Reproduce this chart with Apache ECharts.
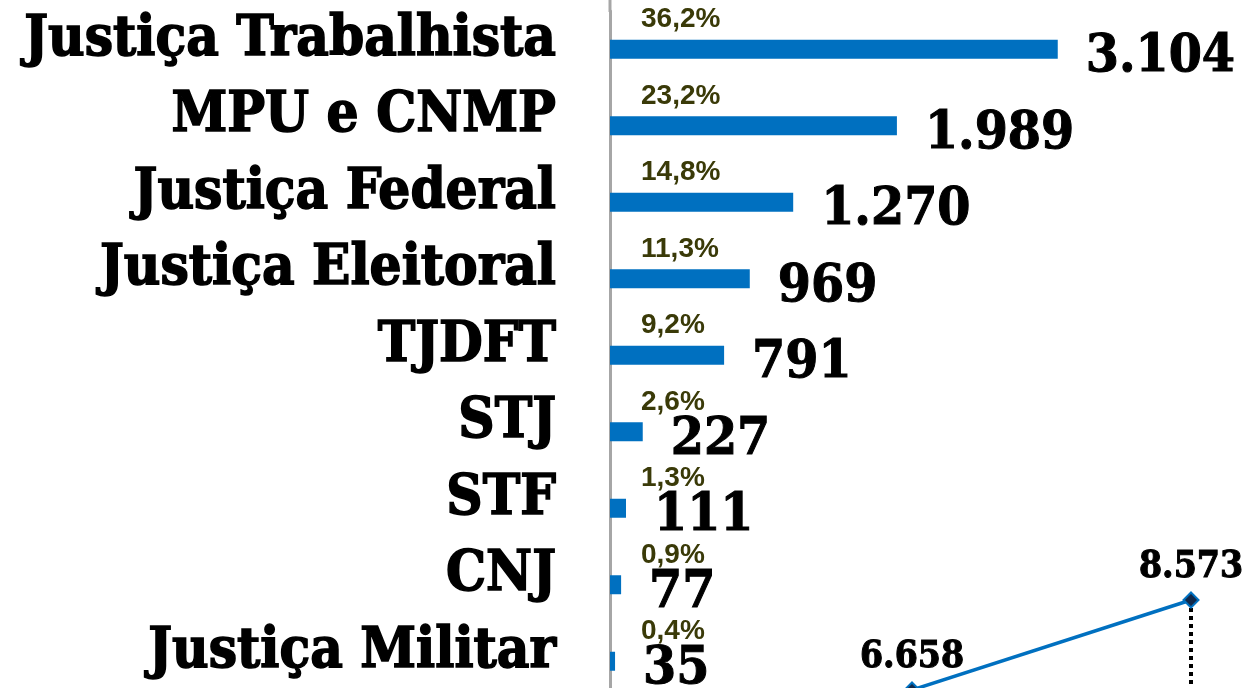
<!DOCTYPE html>
<html>
<head>
<meta charset="utf-8">
<script src="https://cdn.jsdelivr.net/npm/echarts@6/dist/echarts.min.js"></script>
<style>
  html, body { margin: 0; padding: 0; background: #fff; }
  #chart { width: 1246px; height: 688px; }
</style>
</head>
<body>
<div id="chart"></div>
<script>
// orgaos, de cima para baixo
var categories = ['Justiça Trabalhista', 'MPU e CNMP', 'Justiça Federal', 'Justiça Eleitoral', 'TJDFT', 'STJ', 'STF', 'CNJ', 'Justiça Militar'];
var values = [3104, 1989, 1270, 969, 791, 227, 111, 77, 35];
var shares = [36.2, 23.2, 14.8, 11.3, 9.2, 2.6, 1.3, 0.9, 0.4];

// pedaco do grafico de linha no canto
var lineCats = ['anterior', 'atual'];
var lineValues = [6658, 8573];

var slab = '"DejaVu Serif Condensed", "DejaVu Serif", serif';

function ptNum(v) {
  return String(v).replace(/\B(?=(\d{3})+(?!\d))/g, '.');
}

var chart = echarts.init(document.getElementById('chart'));

var option = {
  animation: false,
  grid: [
    { left: 610, top: 11, width: 577, height: 688.5, outerBoundsMode: 'none' },
    { left: 912, top: 600, width: 279, height: 90, outerBoundsMode: 'none' }
  ],
  xAxis: [
    {
      gridIndex: 0,
      type: 'value',
      min: 0,
      max: 4000,
      show: false
    },
    {
      gridIndex: 1,
      type: 'category',
      data: lineCats,
      boundaryGap: false,
      show: false
    }
  ],
  yAxis: [
    {
      gridIndex: 0,
      type: 'category',
      data: categories,
      inverse: true,
      axisLine: { show: true, lineStyle: { color: '#a6a6a6', width: 3 } },
      axisTick: { show: false },
      axisLabel: {
        margin: 54,
        color: '#000',
        fontFamily: slab,
        fontWeight: 'bold',
        fontSize: 56,
        textBorderColor: '#000',
        textBorderWidth: 1.5,
        verticalAlign: 'bottom',
        lineHeight: 18
      }
    },
    {
      gridIndex: 1,
      type: 'value',
      min: 6658,
      max: 8573,
      show: false
    }
  ],
  graphic: [
    {
      type: 'line',
      shape: { x1: 610, y1: 0, x2: 610, y2: 12 },
      style: { stroke: '#a6a6a6', lineWidth: 3 }
    }
  ],
  series: [
    {
      type: 'bar',
      xAxisIndex: 0,
      yAxisIndex: 0,
      data: values,
      barWidth: 19,
      itemStyle: { color: '#0070c0' },
      label: {
        show: true,
        position: 'right',
        distance: 28,
        offset: [0, 8],
        color: '#000',
        fontFamily: slab,
        fontWeight: 'bold',
        fontSize: 53,
        textBorderColor: '#000',
        textBorderWidth: 1,
        formatter: function (p) { return ptNum(p.value); }
      },
      z: 2
    },
    {
      // rotulos de percentual, presos na mesma barra
      type: 'bar',
      xAxisIndex: 0,
      yAxisIndex: 0,
      data: values,
      barWidth: 19,
      barGap: '-100%',
      itemStyle: { color: 'transparent' },
      label: {
        show: true,
        position: [31, -20],
        align: 'left',
        verticalAlign: 'middle',
        color: '#3a3a08',
        fontFamily: '"Liberation Sans", Arial, sans-serif',
        fontWeight: 'bold',
        fontSize: 28,
        formatter: function (p) {
          return shares[p.dataIndex].toFixed(1).replace('.', ',') + '%';
        }
      },
      z: 3
    },
    {
      type: 'line',
      xAxisIndex: 1,
      yAxisIndex: 1,
      data: lineValues,
      symbol: 'diamond',
      symbolSize: 15,
      lineStyle: { color: '#0070c0', width: 3.5 },
      itemStyle: { color: '#10284a', borderColor: '#0070c0', borderWidth: 2 },
      label: {
        show: true,
        position: 'top',
        distance: 6,
        color: '#000',
        fontFamily: slab,
        fontWeight: 'bold',
        fontSize: 37,
        textBorderColor: '#000',
        textBorderWidth: 1,
        formatter: function (p) { return ptNum(p.value); }
      },
      markLine: {
        silent: true,
        symbol: 'none',
        label: { show: false },
        lineStyle: { color: '#000', type: [4, 4], width: 4 },
        data: [
          [
            { coord: [lineCats[1], lineValues[1]] },
            { coord: [lineCats[1], lineValues[0]] }
          ]
        ],
        z: 1
      },
      z: 4
    }
  ]
};

chart.setOption(option);
</script>
</body>
</html>
